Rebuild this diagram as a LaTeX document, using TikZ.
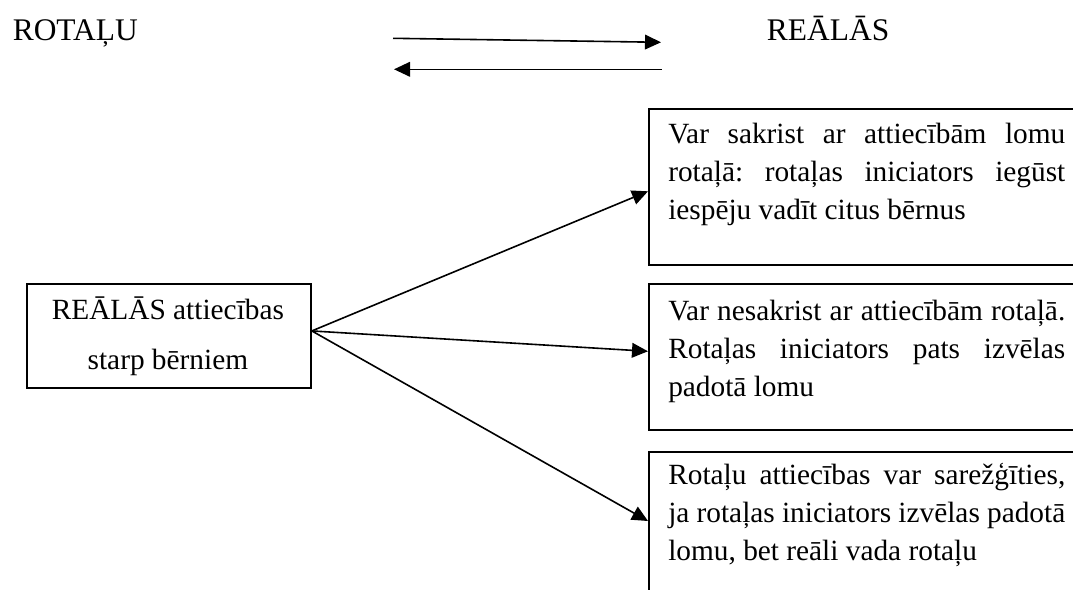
\documentclass[tikz,border=0pt]{standalone}
\usepackage{fontspec}
\setmainfont{Liberation Serif}
\usetikzlibrary{arrows.meta,calc}
\frenchspacing
\tikzset{
  frame/.style={draw, line width=1.4pt, inner sep=0pt, anchor=north west},
  link/.style={line width=1.2pt, -{Triangle[length=12pt,width=11pt]}},
  body/.style={inner sep=0pt, anchor=base west, font=\fontsize{22}{28.5}\selectfont},
  heading/.style={inner sep=0pt, anchor=base west, font=\fontsize{23.6}{28}\selectfont},
}
% a justified line: interword spaces stretched to the full measure
\newcommand{\jline}[1]{\makebox[\linewidth][s]{#1}}
\begin{document}
\begin{tikzpicture}[x=0.75pt,y=-0.75pt]
\useasboundingbox (0,0) rectangle (1073,589);

% headings
\node[heading] (hl) at (12.5,40) {ROTAĻU};
\node[heading] (hr) at (766.7,40) {REĀLĀS};

% two-way arrows between the headings
\coordinate (a1s) at (393,38.3);
\coordinate (a1e) at (661,42.3);
\coordinate (a2s) at (661.7,69.3);
\coordinate (a2e) at (394,69.3);
\draw[link] (a1s) -- (a1e);
\draw[link] (a2s) -- (a2e);

% left box
\node[frame, minimum width=213.2pt, minimum height=78pt] (lb) at (25.7,282.7) {};
\node[inner sep=0pt, anchor=base, font=\fontsize{22}{37.5}\selectfont] (lt) at (167.9,319.5)
  {\parbox[t]{200pt}{\centering REĀLĀS attiecības\\starp bērniem}};

% right boxes, running on past the right and bottom edges
\begin{scope}
\clip (0,0) rectangle (1073,589);
\node[frame, minimum width=500pt, minimum height=116.5pt] (b1) at (648,108.3) {};
\node[frame, minimum width=500pt, minimum height=109.7pt] (b2) at (648,283) {};
\node[frame, minimum width=500pt, minimum height=160pt] (b3) at (648,451) {};
\end{scope}

\node[body] (t1) at (668,143) {\parbox[t]{297.75pt}{%
  \jline{Var sakrist ar attiecībām lomu}\\
  \jline{rotaļā: rotaļas iniciators iegūst}\\
  iespēju vadīt citus bērnus}};
\node[body] (t2) at (668,320) {\parbox[t]{297.75pt}{%
  \jline{Var nesakrist ar attiecībām rotaļā.}\\
  \jline{Rotaļas iniciators pats izvēlas}\\
  padotā lomu}};
\node[body] (t3) at (668,484.5) {\parbox[t]{297.75pt}{%
  \jline{Rotaļu attiecības var sarežģīties,}\\
  \jline{ja rotaļas iniciators izvēlas padotā}\\
  lomu, bet reāli vada rotaļu}};

% connectors from the left box
\coordinate (o) at ($(lb.east)+(0,-4.7)$);
\coordinate (p1) at ($(b1.north west)+(0,83)$);
\coordinate (p2) at ($(b2.north west)+(0,68.3)$);
\coordinate (p3) at ($(b3.north west)+(0,70)$);
\draw[link] (o) -- (p1);
\draw[link] (o) -- (p2);
\draw[link] (o) -- (p3);
\end{tikzpicture}
\end{document}
